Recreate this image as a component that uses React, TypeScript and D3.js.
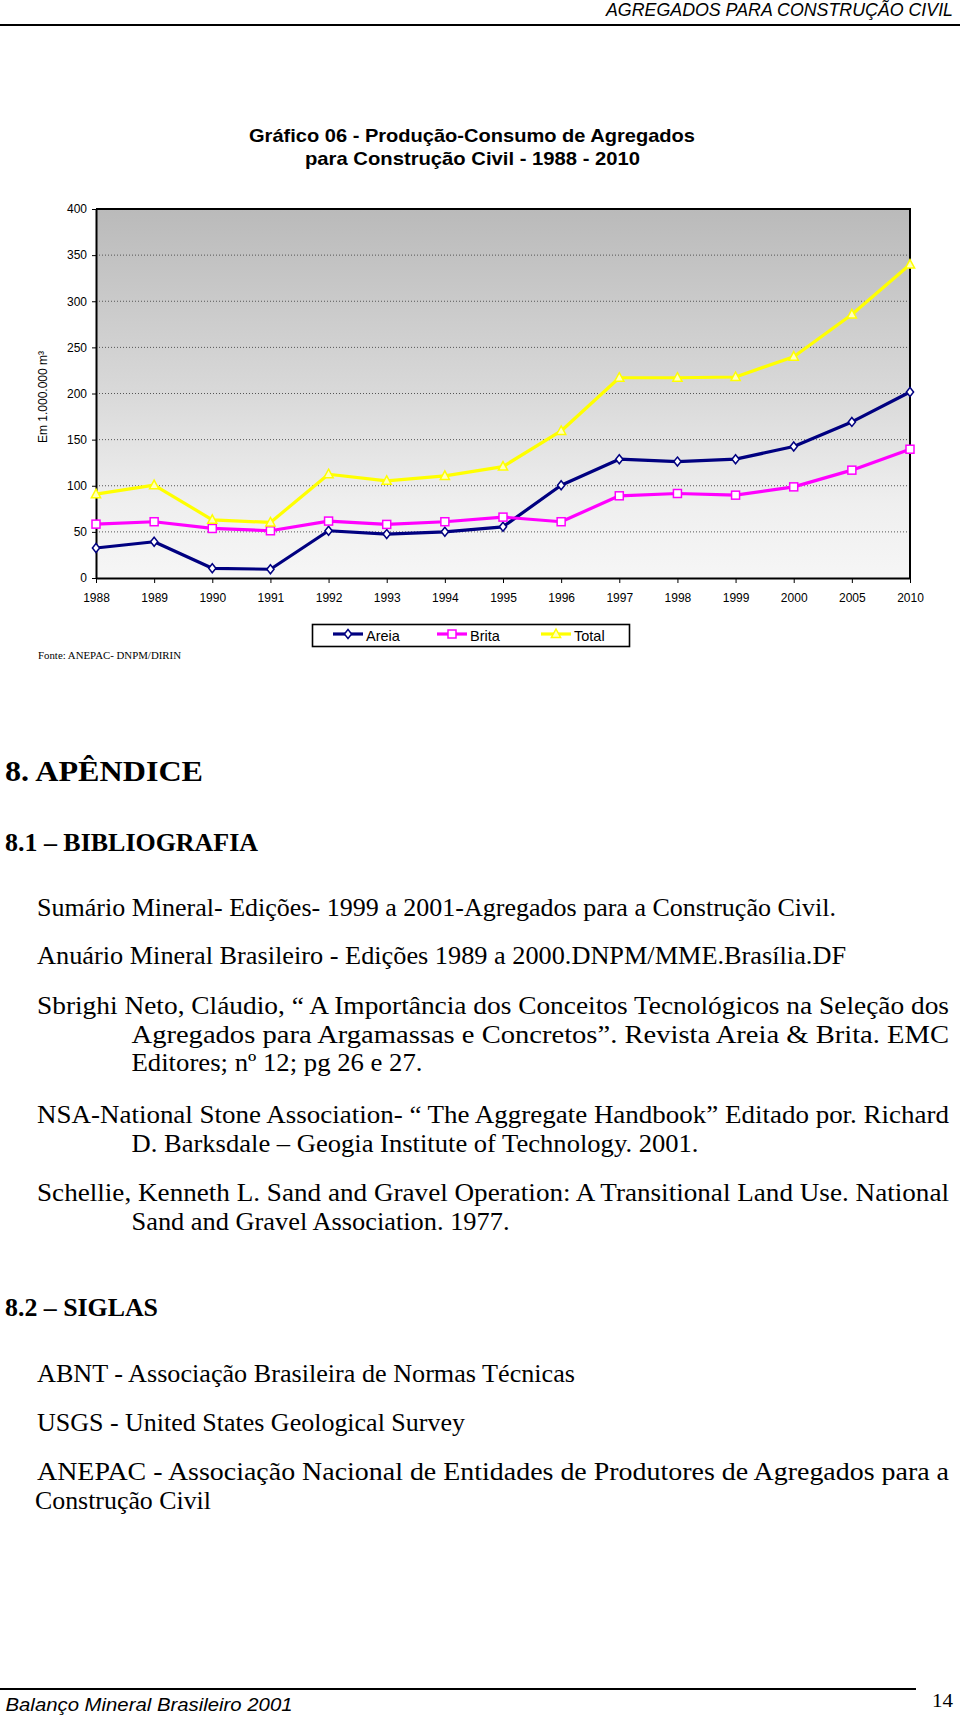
import React, { useEffect, useRef } from 'react';
import * as d3 from 'd3';

// valores (em 1.000.000 m3)
const years = ['1988', '1989', '1990', '1991', '1992', '1993', '1994', '1995', '1996', '1997', '1998', '1999', '2000', '2005', '2010'];
const areia = [32.5, 39.3, 10.5, 9.5, 51.2, 47.6, 50.1, 55.5, 100.6, 128.8, 126.2, 128.8, 142.5, 169.2, 201.6];
const brita = [58.4, 61, 53.7, 51.2, 61.7, 58.1, 61, 66, 61, 89.1, 91.6, 89.8, 98.8, 116.9, 139.6];
const total = [90.9, 100.6, 63.1, 60.2, 112.5, 105.3, 110.7, 120.8, 159.4, 217.1, 217.1, 217.9, 239.9, 285.7, 339.8];
const yTicks = [0, 50, 100, 150, 200, 250, 300, 350, 400];
const seriesNames = ['Areia', 'Brita', 'Total'];

const SANS = 'Liberation Sans, Arial, Helvetica, sans-serif';
const SERIF = 'Liberation Serif, Times New Roman, serif';

const Chart = () => {
  const gRef = useRef<SVGGElement>(null);

  useEffect(() => {
    const g = d3.select(gRef.current);
    g.selectAll('*').remove();
    draw(g);
  }, []);

  const draw = (g: any) => {
    const left = 96, right = 910, top = 209, bottom = 578;

    const x = d3.scalePoint<string>().domain(years).range([left, right]);
    const y = d3.scaleLinear().domain([0, 400]).range([bottom, top]);

    const series = [
      { name: seriesNames[0], values: areia, color: '#000080', marker: 'diamond' },
      { name: seriesNames[1], values: brita, color: '#ff00ff', marker: 'square' },
      { name: seriesNames[2], values: total, color: '#ffff00', marker: 'triangle' },
    ];

    // fundo degradê
    const defs = g.append('defs');
    const grad = defs.append('linearGradient')
      .attr('id', 'plotbg')
      .attr('x1', 0).attr('y1', 0).attr('x2', 0).attr('y2', 1);
    grad.append('stop').attr('offset', '0').attr('stop-color', '#bababa');
    grad.append('stop').attr('offset', '0.5').attr('stop-color', '#d9d9d9');
    grad.append('stop').attr('offset', '0.8').attr('stop-color', '#efefef');
    grad.append('stop').attr('offset', '1').attr('stop-color', '#f6f6f6');

    g.append('rect')
      .attr('x', left).attr('y', top)
      .attr('width', right - left).attr('height', bottom - top)
      .attr('fill', 'url(#plotbg)');

    // linhas de grade pontilhadas
    g.append('g')
      .selectAll('line')
      .data(yTicks.filter((d) => d > 0 && d < 400))
      .enter()
      .append('line')
      .attr('x1', left).attr('x2', right)
      .attr('y1', (d: number) => y(d)).attr('y2', (d: number) => y(d))
      .attr('stroke', '#555')
      .attr('stroke-width', 1)
      .attr('stroke-dasharray', '1,2');

    // borda superior e direita
    g.append('path')
      .attr('d', `M${left},${top}H${right}V${bottom}`)
      .attr('fill', 'none')
      .attr('stroke', '#000')
      .attr('stroke-width', 2);

    const yAxis = g.append('g')
      .attr('transform', `translate(${left},0)`)
      .call(d3.axisLeft(y).tickValues(yTicks).tickSize(4).tickPadding(5).tickSizeOuter(0));
    yAxis.select('.domain').attr('stroke-width', 2);
    yAxis.selectAll('text')
      .style('font-family', SANS)
      .style('font-size', '12px')
      .attr('fill', '#000');

    const xAxis = g.append('g')
      .attr('transform', `translate(0,${bottom})`)
      .call(d3.axisBottom(x).tickSize(5).tickPadding(10).tickSizeOuter(0));
    xAxis.select('.domain').attr('stroke-width', 2);
    xAxis.selectAll('text')
      .style('font-family', SANS)
      .style('font-size', '12px')
      .attr('fill', '#000');

    g.append('text')
      .attr('transform', 'translate(47,397) rotate(-90)')
      .attr('text-anchor', 'middle')
      .style('font-family', SANS)
      .style('font-size', '12px')
      .text('Em 1.000.000 m³');

    const line = d3.line<number>()
      .x((d, i) => x(years[i]) as number)
      .y((d) => y(d));

    const drawMarker = (sel: any, type: string, color: string) => {
      if (type === 'diamond') {
        sel.append('path').attr('d', 'M0,-4.5L3.6,0L0,4.5L-3.6,0Z')
          .attr('fill', '#fff').attr('stroke', color).attr('stroke-width', 1.5);
      } else if (type === 'square') {
        sel.append('rect').attr('x', -4).attr('y', -4).attr('width', 8).attr('height', 8)
          .attr('fill', '#fff').attr('stroke', color).attr('stroke-width', 1.5);
      } else {
        sel.append('path').attr('d', 'M0,-5L4.6,3.5L-4.6,3.5Z')
          .attr('fill', '#ffffc0').attr('stroke', color).attr('stroke-width', 1.5);
      }
    };

    series.forEach((s) => {
      g.append('path')
        .datum(s.values)
        .attr('d', line)
        .attr('fill', 'none')
        .attr('stroke', s.color)
        .attr('stroke-width', 3.2)
        .attr('stroke-linejoin', 'round');

      g.append('g')
        .selectAll('g')
        .data(s.values)
        .enter()
        .append('g')
        .attr('transform', (d: number, i: number) => `translate(${x(years[i])},${y(d)})`)
        .each(function (this: any) {
          drawMarker(d3.select(this), s.marker, s.color);
        });
    });

    // legenda
    const legend = g.append('g');
    legend.append('rect')
      .attr('x', 312.5).attr('y', 624.5)
      .attr('width', 317).attr('height', 22)
      .attr('fill', '#fff')
      .attr('stroke', '#000')
      .attr('stroke-width', 1.6);

    series.forEach((s, i) => {
      const lx = 333 + i * 104;
      const item = legend.append('g');
      item.append('line')
        .attr('x1', lx).attr('x2', lx + 30)
        .attr('y1', 634).attr('y2', 634)
        .attr('stroke', s.color).attr('stroke-width', 3.2);
      const m = item.append('g').attr('transform', `translate(${lx + 15},634)`);
      drawMarker(m, s.marker, s.color);
      item.append('text')
        .attr('x', lx + 33).attr('y', 641)
        .style('font-family', SANS)
        .style('font-size', '14.5px')
        .text(s.name);
    });

    g.append('text')
      .attr('x', 38).attr('y', 659)
      .attr('textLength', 143)
      .attr('lengthAdjust', 'spacingAndGlyphs')
      .style('font-family', SERIF)
      .style('font-size', '11px')
      .text('Fonte: ANEPAC- DNPM/DIRIN');
  };

  return <g ref={gRef}></g>;
};

const Line = ({ x, y, w, size = 24.5, bold = false, children }: any) => (
  <text
    x={x}
    y={y}
    textLength={w}
    lengthAdjust="spacingAndGlyphs"
    style={{ fontFamily: SERIF, fontSize: size, fontWeight: bold ? 'bold' : 'normal' }}
  >
    {children}
  </text>
);

const App = () => {
  return (
    <svg
      width={960}
      height={1719}
      style={{ position: 'absolute', left: 0, top: 0, display: 'block', background: '#fff' }}
    >
      <text
        x={606}
        y={16}
        textLength={347}
        lengthAdjust="spacingAndGlyphs"
        style={{ fontFamily: SANS, fontSize: 17.5, fontStyle: 'italic' }}
      >
        AGREGADOS PARA CONSTRUÇÃO CIVIL
      </text>
      <line x1={0} x2={960} y1={25} y2={25} stroke="#000" strokeWidth={2} />

      <text x={249} y={142} textLength={446} lengthAdjust="spacingAndGlyphs"
        style={{ fontFamily: SANS, fontSize: 19, fontWeight: 'bold' }}>
        Gráfico 06 - Produção-Consumo de Agregados
      </text>
      <text x={305} y={165} textLength={335} lengthAdjust="spacingAndGlyphs"
        style={{ fontFamily: SANS, fontSize: 19, fontWeight: 'bold' }}>
        para Construção Civil - 1988 - 2010
      </text>

      <Chart />

      <Line x={5} y={781} w={198} size={30} bold>8. APÊNDICE</Line>
      <Line x={5} y={851} w={253} size={26} bold>8.1 – BIBLIOGRAFIA</Line>

      <Line x={37} y={915.5} w={799}>Sumário Mineral- Edições- 1999 a 2001-Agregados para a Construção Civil.</Line>
      <Line x={37} y={964} w={809}>Anuário Mineral Brasileiro - Edições 1989 a 2000.DNPM/MME.Brasília.DF</Line>
      <Line x={37} y={1013.5} w={912}>Sbrighi Neto, Cláudio, “ A Importância dos Conceitos Tecnológicos na Seleção dos</Line>
      <Line x={131.5} y={1043} w={817.5}>Agregados para Argamassas e Concretos”. Revista Areia &amp; Brita. EMC</Line>
      <Line x={131.5} y={1070.5} w={291}>Editores; nº 12; pg 26 e 27.</Line>
      <Line x={37} y={1123} w={912}>NSA-National Stone Association- “ The Aggregate Handbook” Editado por. Richard</Line>
      <Line x={131.5} y={1151.5} w={567}>D. Barksdale – Geogia Institute of Technology. 2001.</Line>
      <Line x={37} y={1200.5} w={912}>Schellie, Kenneth L. Sand and Gravel Operation: A Transitional Land Use. National</Line>
      <Line x={131.5} y={1229.5} w={378}>Sand and Gravel Association. 1977.</Line>

      <Line x={5} y={1316} w={153} size={26} bold>8.2 – SIGLAS</Line>

      <Line x={37} y={1381.5} w={538}>ABNT - Associação Brasileira de Normas Técnicas</Line>
      <Line x={37} y={1431} w={428}>USGS - United States Geological Survey</Line>
      <Line x={37} y={1480} w={912}>ANEPAC - Associação Nacional de Entidades de Produtores de Agregados para a</Line>
      <Line x={35} y={1508.5} w={176}>Construção Civil</Line>

      <line x1={0} x2={916} y1={1689} y2={1689} stroke="#000" strokeWidth={2} />
      <text x={5.5} y={1711} textLength={287} lengthAdjust="spacingAndGlyphs"
        style={{ fontFamily: SANS, fontSize: 17.5, fontStyle: 'italic' }}>
        Balanço Mineral Brasileiro 2001
      </text>
      <text x={932} y={1707} textLength={21} lengthAdjust="spacingAndGlyphs"
        style={{ fontFamily: SERIF, fontSize: 19 }}>
        14
      </text>
    </svg>
  );
};

export default App;
